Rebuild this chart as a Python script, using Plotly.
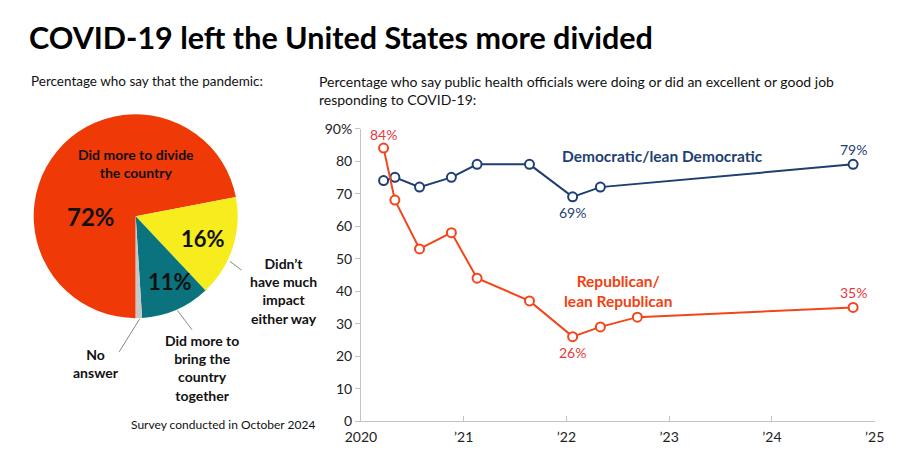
import plotly.graph_objects as go

# ---- data ----
pie_labels = ["Did more to divide the country", "Didn't have much impact either way",
              "Did more to bring the country together", "No answer"]
pie_values = [72, 16, 11, 1]
pie_colors = ["#EF3A07", "#F6EC1E", "#0B737D", "#C8C8C8"]

dem_x = [2020.22, 2020.33, 2020.57, 2020.88, 2021.13, 2021.64, 2022.06, 2022.33, 2024.79]
dem_y = [74, 75, 72, 75, 79, 79, 69, 72, 79]
rep_x = [2020.22, 2020.33, 2020.57, 2020.88, 2021.13, 2021.64, 2022.06, 2022.33, 2022.69, 2024.79]
rep_y = [84, 68, 53, 58, 44, 37, 26, 29, 32, 35]

x_tickvals = [2020, 2021, 2022, 2023, 2024, 2025]
x_ticktext = ["2020", "\u201921", "\u201922", "\u201923", "\u201924", "\u201925"]
y_tickvals = [0, 10, 20, 30, 40, 50, 60, 70, 80, 90]
y_ticktext = ["0", "10", "20", "30", "40", "50", "60", "70", "80", "90%"]

FONT = "Lato"
DEM = "#1E3F72"
REP = "#F2461A"
REP_TXT = "#E8383D"
W, H = 900, 450

def px(x):
    return x / W

def py(y):
    return 1 - y / H

fig = go.Figure()

fig.add_trace(go.Pie(
    labels=pie_labels, values=pie_values, sort=False, direction="clockwise",
    rotation=180, marker=dict(colors=pie_colors, line=dict(width=0)),
    textinfo="none", hoverinfo="skip", showlegend=False,
    domain=dict(x=[px(8), px(222)], y=[py(313), py(101)]),
))

fig.add_trace(go.Scatter(
    x=dem_x, y=dem_y, mode="lines+markers", showlegend=False, cliponaxis=False,
    line=dict(color=DEM, width=2),
    marker=dict(symbol="circle", size=9, color="white", line=dict(color=DEM, width=2)),
    hoverinfo="skip",
))
fig.add_trace(go.Scatter(
    x=rep_x, y=rep_y, mode="lines+markers", showlegend=False, cliponaxis=False,
    line=dict(color=REP, width=2),
    marker=dict(symbol="circle", size=9, color="white", line=dict(color=REP, width=2)),
    hoverinfo="skip",
))

ann = []

def paper_text(x, y, text, size, color="#111", bold=False, xanchor="center", align="center"):
    if bold:
        text = "<b>" + text + "</b>"
    ann.append(dict(x=px(x), y=py(y), xref="paper", yref="paper", text=text,
                    showarrow=False, xanchor=xanchor, yanchor="middle", align=align,
                    font=dict(family=FONT, size=size, color=color)))

# titles
paper_text(3, 21, "COVID-19 left the United States more divided", 30.5, "#000", True, "left", "left")
paper_text(5, 67, "Percentage who say that the pandemic:", 13.5, "#111", False, "left", "left")
paper_text(302, 76, "Percentage who say public health officials were doing or did an excellent or good job<br>responding to COVID-19:",
           14, "#111", False, "left", "left")
paper_text(108, 423, "Survey conducted in October 2024", 12, "#111", False, "left", "left")

# pie labels
paper_text(115, 152, "Did more to divide<br>the country", 14, "#111", True)
paper_text(69, 207, "72%", 24, "#111", True)
paper_text(184, 230, "16%", 22, "#111", True)
paper_text(150, 275, "11%", 22, "#111", True)
paper_text(267, 285, "Didn\u2019t<br>have much<br>impact<br>either way", 14, "#111", True)
paper_text(183, 365, "Did more to<br>bring the<br>country<br>together", 14, "#111", True)
paper_text(74, 360, "No<br>answer", 14, "#111", True)

# line chart series labels
paper_text(658, 144, "Democratic/lean Democratic", 15.5, DEM, True)
paper_text(612, 285, "Republican/<br>lean Republican", 15.5, "#F2410F", True)

# value labels tied to data
def data_label(x, y, text, color, yshift):
    ann.append(dict(x=x, y=y, xref="x", yref="y", text=text, showarrow=False,
                    yshift=yshift, font=dict(family=FONT, size=14, color=color)))

data_label(rep_x[0], rep_y[0], "84%", REP_TXT, 14)
data_label(dem_x[6], dem_y[6], "69%", DEM, -16)
data_label(dem_x[-1], dem_y[-1], "79%", DEM, 15)
data_label(rep_x[6], rep_y[6], "26%", REP_TXT, -16)
data_label(rep_x[-1], rep_y[-1], "35%", REP_TXT, 15)

shapes = [
    dict(type="line", xref="paper", yref="paper", x0=px(212), y0=py(254), x1=px(224), y1=py(263),
         line=dict(color="#888", width=1)),
    dict(type="line", xref="paper", yref="paper", x0=px(158), y0=py(305), x1=px(173), y1=py(325),
         line=dict(color="#888", width=1)),
    dict(type="line", xref="paper", yref="paper", x0=px(119), y0=py(314), x1=px(98), y1=py(348),
         line=dict(color="#888", width=1)),
]

fig.update_layout(
    width=W, height=H, margin=dict(l=0, r=0, t=0, b=0),
    paper_bgcolor="white", plot_bgcolor="white",
    annotations=ann, shapes=shapes,
    font=dict(family=FONT, color="#222"),
    xaxis=dict(domain=[px(347), px(876)], range=[2020, 2025], tickvals=x_tickvals, ticktext=x_ticktext,
               showgrid=False, zeroline=False, showline=True, linecolor="#C4C4C4", linewidth=1,
               ticks="inside", ticklen=5, tickcolor="#C4C4C4", ticklabelstandoff=3,
               tickfont=dict(family=FONT, size=14, color="#222")),
    yaxis=dict(domain=[py(420), py(116)], range=[0, 90], tickvals=y_tickvals, ticktext=y_ticktext,
               showgrid=False, zeroline=False, showline=True, linecolor="#C4C4C4", linewidth=1,
               ticks="outside", ticklen=5, tickcolor="#C4C4C4",
               tickfont=dict(family=FONT, size=14, color="#222")),
)

fig.write_html("out.html")
